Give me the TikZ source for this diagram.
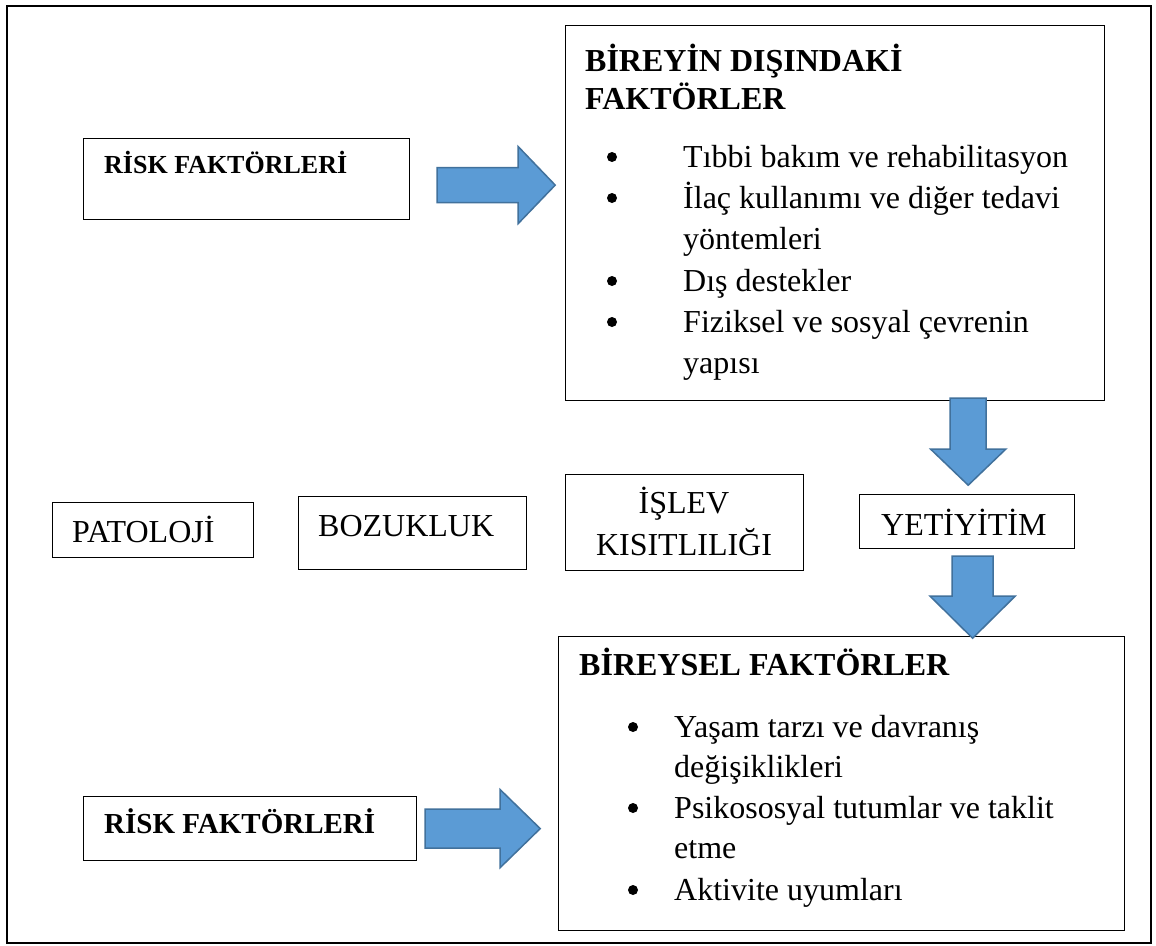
\documentclass[tikz,border=0pt]{standalone}
\usepackage{fontspec}
\setmainfont{Liberation Serif}
\usetikzlibrary{calc}
\definecolor{arrowblue}{RGB}{91,155,213}
\definecolor{arrowedge}{RGB}{65,113,156}

% block arrows: tail centre, shaft length, head length, half shaft, half head
\newcommand{\rightarr}[5]{\draw[blockarrow] (#1) ++(0,-#4) -- ++(#2,0) -- ++(0,{#4-#5}) -- ++(#3,#5) -- ++(-#3,#5) -- ++(0,{#4-#5}) -- ++(-#2,0) -- cycle;}
\newcommand{\downarr}[5]{\draw[blockarrow] (#1) ++(-#4,0) -- ++(0,#2) -- ++({#4-#5},0) -- ++(#5,#3) -- ++(#5,-#3) -- ++({#4-#5},0) -- ++(0,-#2) -- cycle;}

\begin{document}
\begin{tikzpicture}[x=1pt,y=-1pt,
  box/.style={draw=black, line width=1.2pt, inner sep=0pt, anchor=north west},
  txt/.style={anchor=base west, inner sep=0pt, font=\fontsize{32}{38}\selectfont},
  bold/.style={txt, font=\bfseries\fontsize{32}{38}\selectfont},
  dot/.style={circle, fill=black, inner sep=0pt, minimum size=10pt},
  blockarrow/.style={fill=arrowblue, draw=arrowedge, line width=1.5pt}]
\useasboundingbox[fill=white] (0,0) rectangle (1156,945);

% Outer frame
\draw[line width=2.5pt] (7,6) rectangle (1151,943);

% Top risk box
\node[box, minimum width=326pt, minimum height=81pt] (riskA) at (83,138) {};
\node[bold, font=\bfseries\fontsize{26}{30}\selectfont] (riskAtxt) at (104,173) {RİSK FAKTÖRLERİ};

% External factors
\node[box, minimum width=539pt, minimum height=375pt] (dis) at (565,25) {};
\node[bold] (dis1) at (585,71) {BİREYİN DIŞINDAKİ};
\node[bold] (dis2) at (585,109) {FAKTÖRLER};
\foreach \y [count=\i] in {167,208,291,332}
  \node[dot] (disb\i) at (612,\y-10) {};
\foreach \y/\t [count=\i] in {167/Tıbbi bakım ve rehabilitasyon, 208/İlaç kullanımı ve diğer tedavi,
    249/yöntemleri, 291/Dış destekler, 332/Fiziksel ve sosyal çevrenin, 373/yapısı}
  \node[txt] (dist\i) at (683,\y) {\t};

% Middle row
\node[box, minimum width=201pt, minimum height=55pt] (pat) at (52,502) {};
\node[txt] (pattxt) at (72,542) {PATOLOJİ};
\node[box, minimum width=228pt, minimum height=73pt] (boz) at (298,496) {};
\node[txt] (boztxt) at (318,536) {BOZUKLUK};
\node[box, minimum width=238pt, minimum height=96pt] (isl) at (565,474) {};
\node[txt, anchor=base] (isl1) at (684,513) {İŞLEV};
\node[txt, anchor=base] (isl2) at (684,555) {KISITLILIĞI};
\node[box, minimum width=215pt, minimum height=54pt] (yeti) at (859,494) {};
\node[txt] (yetitxt) at (881,535) {YETİYİTİM};

% Individual factors
\node[box, minimum width=566pt, minimum height=294pt] (bir) at (558,636) {};
\node[bold] (bir1) at (579,675) {BİREYSEL FAKTÖRLER};
\foreach \y [count=\i] in {737,818,900}
  \node[dot] (birb\i) at (633,\y-10) {};
\foreach \y/\t [count=\i] in {737/Yaşam tarzı ve davranış, 777/değişiklikleri,
    818/Psikososyal tutumlar ve taklit, 858/etme, 900/Aktivite uyumları}
  \node[txt] (birt\i) at (674,\y) {\t};

% Bottom risk box
\node[box, minimum width=333pt, minimum height=64pt] (riskB) at (83,796) {};
\node[bold, font=\bfseries\fontsize{29}{34}\selectfont] (riskBtxt) at (104,833) {RİSK FAKTÖRLERİ};

% Arrows
\coordinate (a1) at ($(riskA.east)+(27,6)$);
\rightarr{a1}{81}{37}{17.5}{38.5}
\coordinate (a2) at ($(dis.south east)+(-137,-3)$);
\downarr{a2}{51}{36}{18}{37.5}
\coordinate (a3) at ($(yeti.south)+(5.5,7)$);
\downarr{a3}{40}{42}{20.5}{42.5}
\coordinate (a4) at ($(riskB.east)+(8,0)$);
\rightarr{a4}{75}{40}{19.5}{39}
\end{tikzpicture}
\end{document}
